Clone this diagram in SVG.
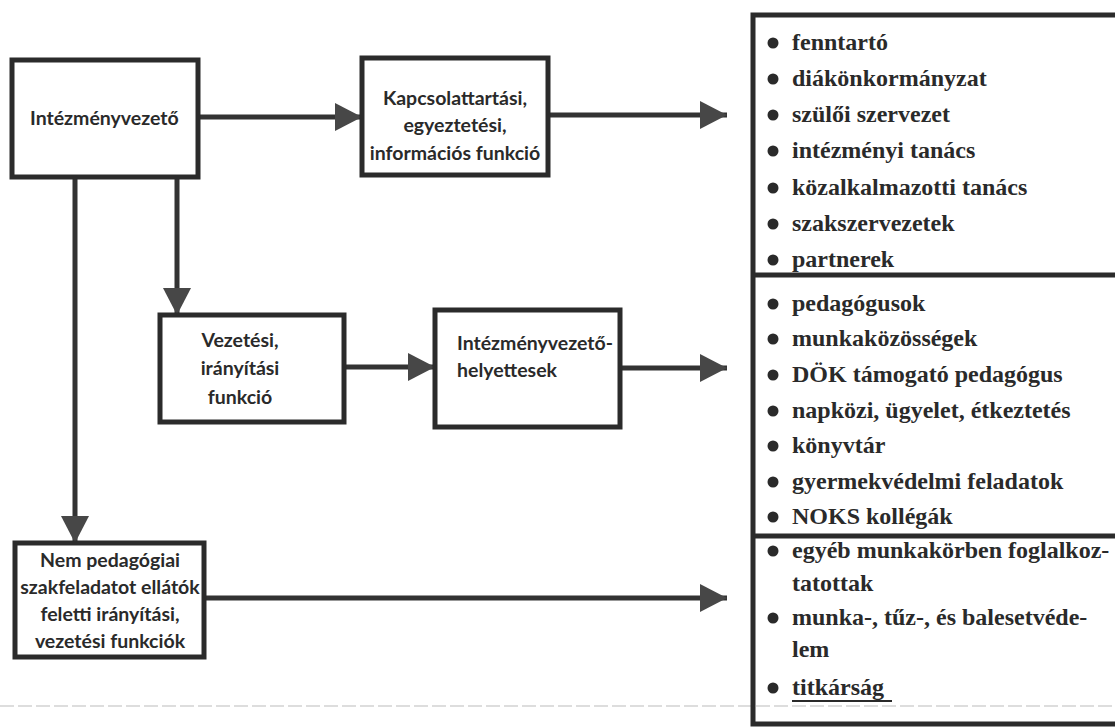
<svg xmlns="http://www.w3.org/2000/svg" width="1115" height="727" viewBox="0 0 1115 727">
<defs>
<style>
.box{fill:#fff;stroke:#2b2b2b;stroke-width:5}
.lbl{font-family:Lato,"Liberation Sans",sans-serif;font-size:19.5px;font-weight:bold;fill:#2a2a2a}
.mid{text-anchor:middle}
.conn{stroke:#333;stroke-width:5;fill:none}
.list{font-family:"Liberation Serif","DejaVu Serif",serif;font-size:24px;font-weight:bold;fill:#2a2a2a}
.bul{fill:#2a2a2a}
.frame{stroke:#2b2b2b;stroke-width:5;fill:none}
</style>
<marker id="ah" markerUnits="userSpaceOnUse" markerWidth="30" markerHeight="30" refX="27" refY="14" orient="auto">
<path d="M0,0 L27,14 L0,28 z" fill="#474747"/>
</marker>
</defs>
<rect width="1115" height="727" fill="#fff"/>
<line x1="0" y1="706" x2="1115" y2="706" stroke="#d2d2d2" stroke-width="1.5" stroke-dasharray="14 4"/>

<g id="connectors">
<path class="conn" d="M197,117 H362" marker-end="url(#ah)"/>
<path class="conn" d="M548,115 H727" marker-end="url(#ah)"/>
<path class="conn" d="M177,177 V315" marker-end="url(#ah)"/>
<path class="conn" d="M75,177 V543" marker-end="url(#ah)"/>
<path class="conn" d="M344,367 H435" marker-end="url(#ah)"/>
<path class="conn" d="M620,368 H727" marker-end="url(#ah)"/>
<path class="conn" d="M204,598 H727" marker-end="url(#ah)"/>
</g>

<g id="intezmenyvezeto">
<rect class="box" x="12" y="60" width="186" height="117"/>
<text class="lbl" x="30" y="125">Intézményvezető</text>
</g>

<g id="kapcsolattartasi">
<rect class="box" x="362" y="58" width="186" height="117"/>
<text class="lbl mid" x="455" y="105">Kapcsolattartási,</text>
<text class="lbl mid" x="455" y="132">egyeztetési,</text>
<text class="lbl mid" x="455" y="160">információs funkció</text>
</g>

<g id="vezetesi">
<rect class="box" x="160" y="315" width="184" height="107"/>
<text class="lbl mid" x="240" y="347">Vezetési,</text>
<text class="lbl mid" x="240" y="375">irányítási</text>
<text class="lbl mid" x="240" y="404">funkció</text>
</g>

<g id="helyettesek">
<rect class="box" x="435" y="310" width="185" height="117"/>
<text class="lbl" x="457" y="350">Intézményvezető-</text>
<text class="lbl" x="457" y="377">helyettesek</text>
</g>

<g id="nem-pedagogiai">
<rect class="box" x="15" y="543" width="189" height="114"/>
<text class="lbl mid" x="110" y="567">Nem pedagógiai</text>
<text class="lbl mid" x="110" y="594">szakfeladatot ellátók</text>
<text class="lbl mid" x="110" y="621">feletti irányítási,</text>
<text class="lbl mid" x="110" y="648">vezetési funkciók</text>
</g>

<g id="lista">
<path class="frame" d="M1115,15 H753 V724 H1115 M753,275 H1115 M753,536 H1115"/>
<g id="lista-1">
<circle class="bul" cx="773" cy="43" r="5.5"/><text class="list" x="792" y="50">fenntartó</text>
<circle class="bul" cx="773" cy="79" r="5.5"/><text class="list" x="792" y="86">diákönkormányzat</text>
<circle class="bul" cx="773" cy="115" r="5.5"/><text class="list" x="792" y="122">szülői szervezet</text>
<circle class="bul" cx="773" cy="151" r="5.5"/><text class="list" x="792" y="158">intézményi tanács</text>
<circle class="bul" cx="773" cy="188" r="5.5"/><text class="list" x="792" y="195">közalkalmazotti tanács</text>
<circle class="bul" cx="773" cy="224" r="5.5"/><text class="list" x="792" y="231">szakszervezetek</text>
<circle class="bul" cx="773" cy="260" r="5.5"/><text class="list" x="792" y="267">partnerek</text>
</g>
<g id="lista-2">
<circle class="bul" cx="773" cy="304" r="5.5"/><text class="list" x="792" y="311">pedagógusok</text>
<circle class="bul" cx="773" cy="339" r="5.5"/><text class="list" x="792" y="346">munkaközösségek</text>
<circle class="bul" cx="773" cy="375" r="5.5"/><text class="list" x="792" y="382">DÖK támogató pedagógus</text>
<circle class="bul" cx="773" cy="411" r="5.5"/><text class="list" x="792" y="418">napközi, ügyelet, étkeztetés</text>
<circle class="bul" cx="773" cy="446" r="5.5"/><text class="list" x="792" y="453">könyvtár</text>
<circle class="bul" cx="773" cy="482" r="5.5"/><text class="list" x="792" y="489">gyermekvédelmi feladatok</text>
<circle class="bul" cx="773" cy="517" r="5.5"/><text class="list" x="792" y="524">NOKS kollégák</text>
</g>
<g id="lista-3">
<circle class="bul" cx="773" cy="551" r="5.5"/><text class="list" x="792" y="558">egyéb munkakörben foglalkoz-</text>
<text class="list" x="792" y="591">tatottak</text>
<circle class="bul" cx="773" cy="618" r="5.5"/><text class="list" x="792" y="625">munka-, tűz-, és balesetvéde-</text>
<text class="list" x="792" y="657">lem</text>
<circle class="bul" cx="773" cy="688" r="5.5"/><text class="list" x="792" y="695">titkárság</text>
<line x1="792" y1="701" x2="892" y2="701" stroke="#2a2a2a" stroke-width="2"/>
</g>
</g>
</svg>
